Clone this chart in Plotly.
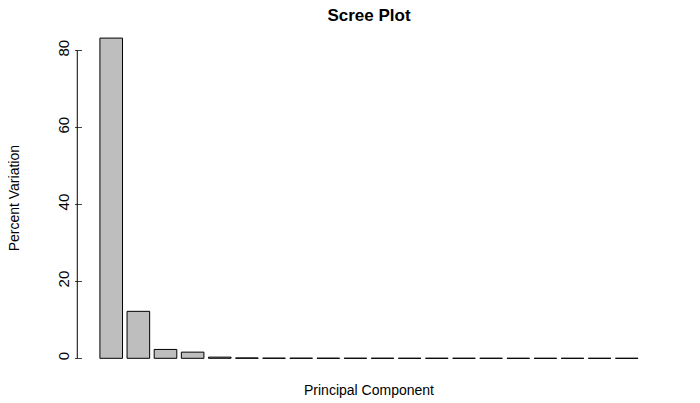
import plotly.graph_objects as go

components = ["PC%d" % i for i in range(1, 21)]
percent_var = [83.2, 12.2, 2.3, 1.6, 0.3, 0.1, 0.05, 0.04, 0.03, 0.02,
               0.02, 0.01, 0.01, 0.01, 0.01, 0.0, 0.0, 0.0, 0.0, 0.0]

fig = go.Figure()
fig.add_trace(go.Bar(
    x=list(range(len(components))), y=percent_var,
    marker=dict(color="#BEBEBE", line=dict(color="black", width=1)),
    width=1 / 1.2, hovertext=components, showlegend=False,
))

# R-style y axis line spanning only the tick range
fig.add_shape(type="line", xref="paper", yref="y", x0=-0.01, x1=-0.01, y0=0, y1=80,
              line=dict(color="black", width=1))

fig.update_layout(
    width=700, height=403,
    margin=dict(l=75, r=53, t=17, b=40),
    plot_bgcolor="white", paper_bgcolor="white",
    font=dict(family="Liberation Sans, Arial", size=14, color="black"),
    title=dict(text="<b>Scree Plot</b>", x=(75 + 647) / 2 / 700, xanchor="center",
               y=1 - 7 / 403, yanchor="middle", font=dict(size=17)),
    xaxis=dict(range=[-1.04, 20.04], showticklabels=False, showgrid=False,
               zeroline=False, showline=False, ticks=""),
    yaxis=dict(range=[-3.3, 86.6], tickvals=[0, 20, 40, 60, 80], showgrid=False,
               zeroline=False, showline=False, ticks="outside", ticklen=7,
               tickangle=-90, tickfont=dict(size=15)),
)
fig.add_annotation(text="Percent Variation", xref="paper", yref="paper", x=-0.12, y=0.5,
                   xanchor="center", yanchor="middle",
                   textangle=-90, showarrow=False, font=dict(size=14))
fig.add_annotation(text="Principal Component", xref="paper", yref="paper", x=0.5,
                   y=-0.055, xanchor="center", yanchor="middle", showarrow=False,
                   font=dict(size=14))

fig.write_html("out.html")
